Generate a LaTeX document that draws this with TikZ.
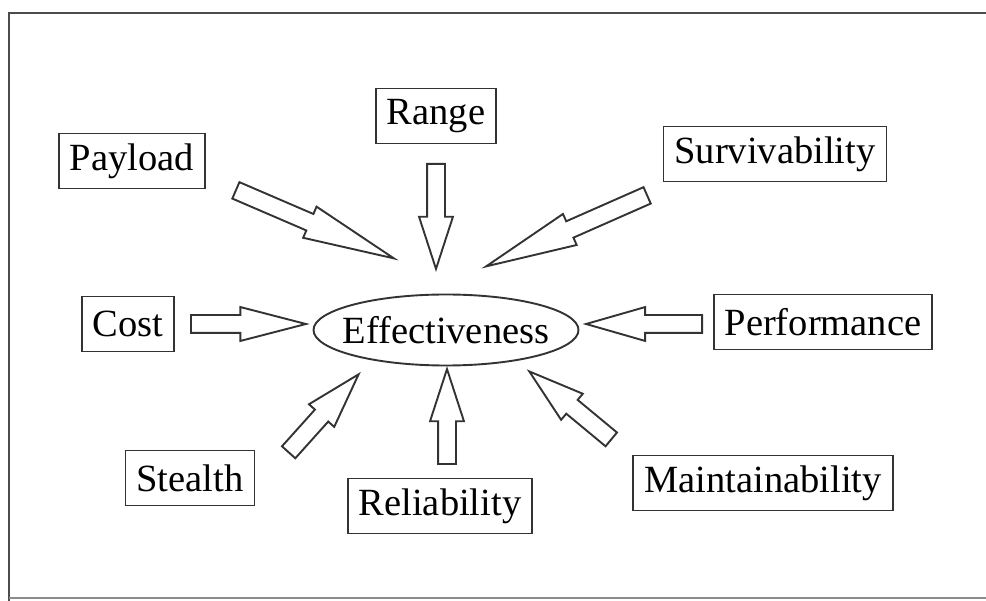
\documentclass[tikz,border=0pt]{standalone}
\usepackage{fontspec}
\setmainfont{Liberation Serif}
\usetikzlibrary{calc,shapes.geometric,shapes.arrows}

\newcommand\fatarrow[3][36]{%
  \path let \p1=($(#3)-(#2)$), \n1={atan2(\y1,\x1)}, \n2={veclen(\x1,\y1)} in
    node[fat, single arrow tip angle=#1, minimum height=\n2, rotate=\n1, anchor=tail] at (#2) {};}

\begin{document}
\begin{tikzpicture}
[x=1pt,y=-1pt,
 factor/.style={draw=black!80,line width=1.9pt,rectangle,inner xsep=11pt,inner ysep=0pt,minimum height=55pt,font=\fontsize{38.5}{42}\selectfont},
 goal/.style={draw=black!80,line width=1.9pt,ellipse,inner sep=-30pt,minimum width=265pt,minimum height=71pt,font=\fontsize{38.5}{42}\selectfont},
 fat/.style={single arrow,draw=black!80,line width=1.9pt,fill=white,inner sep=8pt,single arrow head extend=8pt}]
\useasboundingbox (0,0) rectangle (986,601);
\draw[black!70,line width=1.6pt] (986,13) -| (9,601);
\draw[black!45,line width=1.3pt] (9,598) -- (986,598);

\node[goal] (eff) at (446,330) {Effectiveness};

\node[factor] (payload) at (132,161) {Payload};
\node[factor] (range) at (436,116) {Range};
\node[factor] (surv) at (775,154) {Survivability};
\node[factor] (cost) at (128,324) {Cost};
\node[factor] (perf) at (823,322) {Performance};
\node[factor] (stealth) at (190,478) {Stealth};
\node[factor] (rel) at (440,506) {Reliability};
\node[factor] (maint) at (763,483) {Maintainability};

% tails and tips of the block arrows
\coordinate (payload-t) at (235,190);  \coordinate (payload-h) at (393,258);
\coordinate (range-t) at (436,163);    \coordinate (range-h) at (436,268);
\coordinate (surv-t) at (648,195);     \coordinate (surv-h) at (487,266);
\coordinate (cost-t) at (190,324);     \coordinate (cost-h) at (305,324);
\coordinate (perf-t) at (703,324);     \coordinate (perf-h) at (587,324);
\coordinate (stealth-t) at (288,453);  \coordinate (stealth-h) at (358,375);
\coordinate (rel-t) at (447,465);      \coordinate (rel-h) at (447,370);
\coordinate (maint-t) at (612,440);    \coordinate (maint-h) at (530,372);

\foreach \a/\src in {21/payload,36/range,21/surv,29/cost,32/perf,34/stealth,36/rel,34/maint}
  \fatarrow[\a]{\src-t}{\src-h};
\end{tikzpicture}
\end{document}
